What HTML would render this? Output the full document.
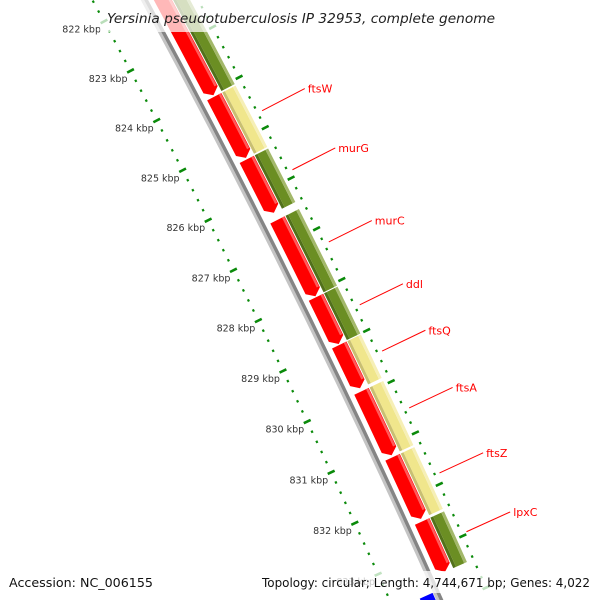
<!DOCTYPE html>
<html><head><meta charset="utf-8"><style>
html,body{margin:0;padding:0;background:#fff;width:600px;height:600px;overflow:hidden;}
svg{display:block;font-family:"DejaVu Sans","Liberation Sans",sans-serif;overflow:hidden;}
</style></head><body>
<svg id="map" width="600" height="600" viewBox="0 0 600 600" xmlns="http://www.w3.org/2000/svg">
<defs><clipPath id="frame"><rect x="0" y="0" width="600" height="600"/></clipPath></defs>
<g clip-path="url(#frame)">
<g id="inner"></g>
<g id="ruler"></g>
<g id="backbone"></g>
<g id="genes"></g>
<g id="cogs"></g>
<g id="outer"></g>
<g id="labels"></g>
</g>
<rect x="100" y="0" width="400" height="32" fill="#fff" opacity="0.72"/>
<text x="107" y="23" font-size="13" font-style="italic" fill="#222" textLength="388" lengthAdjust="spacingAndGlyphs">Yersinia pseudotuberculosis IP 32953, complete genome</text>
<rect x="0" y="571" width="600" height="22" fill="#fff" opacity="0.75"/>
<text x="9" y="587" font-size="12.5" fill="#111" textLength="144" lengthAdjust="spacingAndGlyphs">Accession: NC_006155</text>
<text x="262" y="587" font-size="12.5" fill="#111" textLength="328" lengthAdjust="spacingAndGlyphs">Topology: circular; Length: 4,744,671 bp; Genes: 4,022</text>
</svg>
<script>
const geneStart = [821000, 824100, 825350, 826550, 828080, 829020, 829930, 831220, 832470];
const geneEnd   = [824070, 825320, 826410, 828060, 829000, 829870, 831180, 832420, 833450];
const geneCog   = ['M','D','M','M','M','D','D','D','M'];
const geneName  = ['', 'ftsW','murG','murC','ddl','ftsQ','ftsA','ftsZ','lpxC'];
const tickStart = 821000, tickEnd = 834000, tickStep = 200, majorStep = 1000;

const NS = 'http://www.w3.org/2000/svg';
const CX = -7596.9, CY = 4184.2, R = 8800;
const A0 = -0.45711, K = 0.006409/1000, REF = 828000;
function ang(bp){ return A0 + (bp-REF)*K; }
function pt(r,bp){ const a=ang(bp); return [CX+r*Math.cos(a), CY+r*Math.sin(a)]; }
function f(p){ return p[0].toFixed(2)+' '+p[1].toFixed(2); }
function band(b1,b2,r1,r2){
  return 'M'+f(pt(r2,b1))+' A'+r2+' '+r2+' 0 0 1 '+f(pt(r2,b2))+' L'+f(pt(r1,b2))+' A'+r1+' '+r1+' 0 0 0 '+f(pt(r1,b1))+' Z';
}
function arrow(b1,b2,r1,r2){
  const h = 110, bh = Math.max(b1, b2-h), rm=(r1+r2)/2;
  return 'M'+f(pt(r2,b1))+' A'+r2+' '+r2+' 0 0 1 '+f(pt(r2,bh))+' L'+f(pt(rm,b2))+' L'+f(pt(r1,bh))+' A'+r1+' '+r1+' 0 0 0 '+f(pt(r1,b1))+' Z';
}
function mk(tag, parent, attrs){
  const e=document.createElementNS(NS,tag);
  for(const k in attrs) e.setAttribute(k,attrs[k]);
  parent.appendChild(e); return e;
}
const gInner=document.getElementById('inner'), gRuler=document.getElementById('ruler'),
  gBack=document.getElementById('backbone'), gGenes=document.getElementById('genes'),
  gCogs=document.getElementById('cogs'), gOuter=document.getElementById('outer'), gLab=document.getElementById('labels');

let e = mk('path', gInner, {d: band(833700, 834600, R-18, R-4), fill:'#0000ff'});


e = mk('path', gInner, {d: band(833800, 834600, R-32, R-22), fill:'#666'});



e = mk('path', gBack, {d: band(820000, 834800, R-3.5, R-0.5), fill:'#c4c4c4'});


e = mk('path', gBack, {d: band(820000, 834800, R-0.5, R+3), fill:'#858585'});



function ruler(g, r, labels, name){
  for(let b=tickStart; b<=tickEnd; b+=tickStep){
    const major = b % majorStep === 0;
    const half = major ? 3.8 : 1.1;
    const p1=pt(r-half,b), p2=pt(r+half,b);
    const t = mk('line', g, {x1:p1[0],y1:p1[1],x2:p2[0],y2:p2[1],stroke:'#0a8a0a','stroke-width':major?2.6:2.4});
    
    
    if(major && labels){
      const p=pt(r,b);
      const tx = mk('text', g, {x:(p[0]-3).toFixed(1), y:(p[1]+11).toFixed(1), 'text-anchor':'end','font-size':'9.5',fill:'#333'});
      tx.textContent = (b/1000)+' kbp';
      
      
    }
  }
}
ruler(gRuler, R-46, true, 'inner');
ruler(gOuter, R+47, false, 'outer');

const cogCol = {M:['#52711a','#6b8e23','#a3b86a'], D:['#c9bf72','#f0e68c','#f6efb6']};
for(let i=0;i<geneStart.length;i++){
  const s=geneStart[i], en=geneEnd[i];
  const g = mk('g', gGenes, {});
  
  
  mk('path', g, {d: arrow(s,en,R+8,R+24), fill:'#ff0000'});
  const hl = mk('path', g, {d: band(s, Math.max(s,en-130), R+21, R+23.5), fill:'#ff5a5a'});
  
  

  const c = cogCol[geneCog[i]];
  const cg = mk('g', gCogs, {});
  
  
  mk('path', cg, {d: band(s,en,R+25,R+28), fill:c[0]});
  mk('path', cg, {d: band(s,en,R+28,R+37), fill:c[1]});
  mk('path', cg, {d: band(s,en,R+37,R+40), fill:c[2]});

  if(geneName[i]){
    const mid=(s+en)/2, p1=pt(R+52,mid), p2=pt(R+100,mid);
    const ln = mk('line', gLab, {x1:p1[0],y1:p1[1],x2:p2[0],y2:p2[1],stroke:'#ff0000','stroke-width':1});
    
    
    const tx = mk('text', gLab, {x:(p2[0]+3).toFixed(1), y:(p2[1]+4).toFixed(1), 'font-size':'11', fill:'#ff0000'});
    tx.textContent = geneName[i];
    
    
  }
}
</script>
</body></html>
